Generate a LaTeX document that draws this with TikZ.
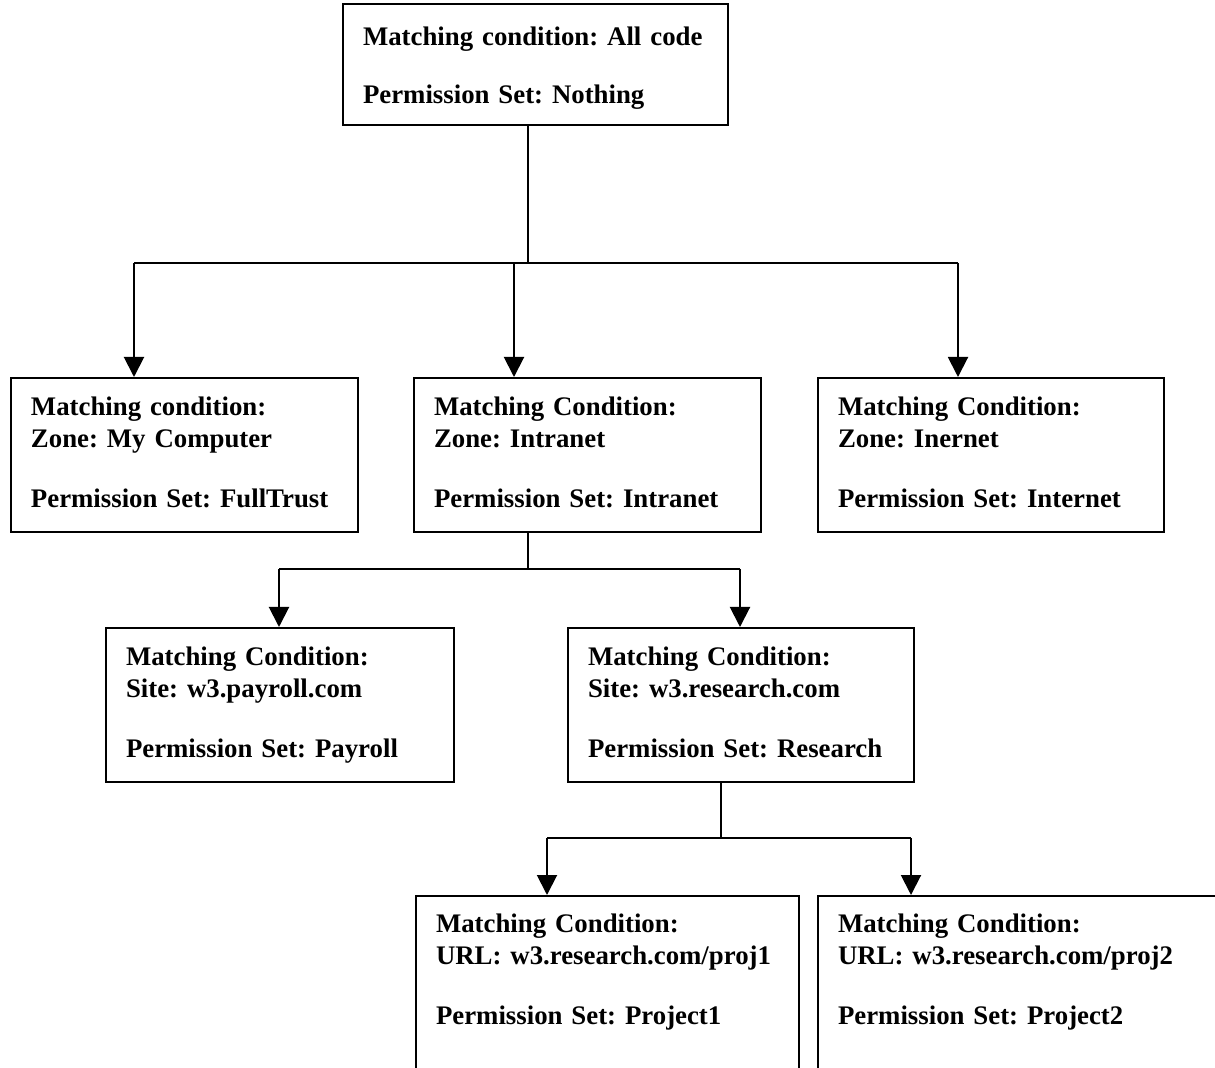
\documentclass[tikz,border=0pt]{standalone}
\usepackage{fontspec}
\setmainfont{Liberation Serif}
\usetikzlibrary{arrows.meta}
\frenchspacing
\begin{document}
\begin{tikzpicture}[x=0.5pt,y=-0.5pt,
    grupo/.style={draw,line width=1pt,anchor=north west,align=left,
        inner xsep=10pt,inner ysep=7pt,
        font=\bfseries\fontsize{13.4}{16}\selectfont,
        execute at begin node=\strut,execute at end node=\strut},
    wire/.style={line width=1pt},
    tip/.style={-{Triangle[width=10pt,length=10pt]}}]

    \useasboundingbox (0,0) rectangle (1215,1068);
    \clip (0,0) rectangle (1215,1068);

    %Nivel 1
    \node[grupo,text width=172.5pt,minimum height=60.5pt,inner ysep=5pt] (allcode) at (342,3)
        {\rule{0pt}{15pt}Matching condition: All code\\[13pt]Permission Set: Nothing};

    %Nivel 2
    \node[grupo,text width=153.5pt,minimum height=77pt] (mycomp) at (10,377)
        {Matching condition:\\Zone: My Computer\\[14pt]Permission Set: FullTrust};
    \node[grupo,text width=153.5pt,minimum height=77pt] (intra) at (413,377)
        {Matching Condition:\\Zone: Intranet\\[14pt]Permission Set: Intranet};
    \node[grupo,text width=153pt,minimum height=77pt] (inter) at (817,377)
        {Matching Condition:\\Zone: Inernet\\[14pt]Permission Set: Internet};

    %Nivel 3
    \node[grupo,text width=154pt,minimum height=77pt] (payroll) at (105,627)
        {Matching Condition:\\Site: w3.payroll.com\\[14pt]Permission Set: Payroll};
    \node[grupo,text width=153pt,minimum height=77pt] (research) at (567,627)
        {Matching Condition:\\Site: w3.research.com\\[14pt]Permission Set: Research};

    %Nivel 4
    \node[grupo,text width=171.5pt] (proj1) at (415,895)
        {Matching Condition:\\URL: w3.research.com/proj1\\[14pt]Permission Set: Project1\\[40pt]};
    \node[grupo,text width=190pt] (proj2) at (817,895)
        {Matching Condition:\\URL: w3.research.com/proj2\\[14pt]Permission Set: Project2\\[40pt]};

    %Ramas 1
    \coordinate (bus1) at (528,263);
    \coordinate (j1a) at (134,263);
    \coordinate (j1b) at (514,263);
    \coordinate (j1c) at (958,263);
    \draw[wire] (allcode.south -| bus1) -- (bus1);
    \draw[wire] (j1a) -- (j1c);
    \foreach \j/\b in {j1a/mycomp,j1b/intra,j1c/inter}{
        \draw[wire,tip] (\j) -- (\j |- \b.north);
    }

    %Ramas 2
    \coordinate (bus2) at (528,569);
    \coordinate (j2a) at (279,569);
    \coordinate (j2b) at (740,569);
    \draw[wire] (intra.south -| bus2) -- (bus2);
    \draw[wire] (j2a) -- (j2b);
    \foreach \j/\b in {j2a/payroll,j2b/research}{
        \draw[wire,tip] (\j) -- (\j |- \b.north);
    }

    %Ramas 3
    \coordinate (bus3) at (721,838);
    \coordinate (j3a) at (547,838);
    \coordinate (j3b) at (911,838);
    \draw[wire] (research.south -| bus3) -- (bus3);
    \draw[wire] (j3a) -- (j3b);
    \foreach \j/\b in {j3a/proj1,j3b/proj2}{
        \draw[wire,tip] (\j) -- (\j |- \b.north);
    }

\end{tikzpicture}
\end{document}
